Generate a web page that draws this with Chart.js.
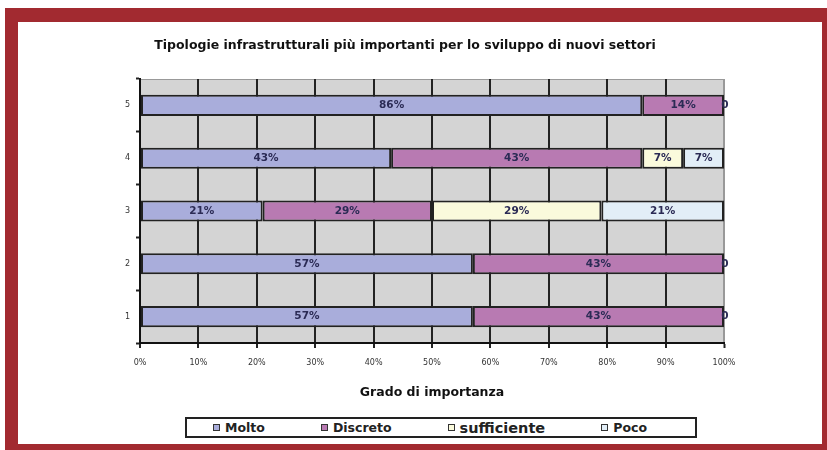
<!DOCTYPE html>
<html>
<head>
<meta charset="utf-8">
<script src="https://cdn.jsdelivr.net/npm/chart.js@4"></script>
<style>
  html, body { margin: 0; padding: 0; background: #fff; }
  body { width: 827px; height: 450px; position: relative; overflow: hidden; font-family: "DejaVu Sans", Verdana, sans-serif; }
  .frame { position: absolute; left: 5px; top: 8px; width: 822px; height: 442px; box-sizing: border-box;
           border: solid #a22a30; border-width: 14px 5px 6px 13px; }
  #wrap { position: absolute; left: 0; top: 0; width: 827px; height: 450px; }
  .legend { position: absolute; left: 185px; top: 417px; width: 512px; height: 21px; box-sizing: border-box;
            border: 2px solid #222; background: #fff; display: flex; justify-content: flex-start; align-items: center;
            gap: 56px; padding-left: 26px; }
  .legend span { display: inline-flex; align-items: center; font-weight: bold; font-size: 12.5px; color: #222; }
  .legend span.big { font-size: 14.5px; }
  .legend i { display: inline-block; width: 5px; height: 5px; border: 1px solid #333; margin-right: 5px; }
</style>
</head>
<body>
<div class="frame"></div>
<div id="wrap"><canvas id="c" width="827" height="450"></canvas></div>
<div class="legend" id="legend"></div>
<script>
const categories = ['1', '2', '3', '4', '5'];
const seriesNames = ['Molto', 'Discreto', 'sufficiente', 'Poco'];
const molto       = [57, 57, 21, 43, 86];
const discreto    = [43, 43, 29, 43, 14];
const sufficiente = [0, 0, 29, 7, 0];
const poco        = [0, 0, 21, 7, 0];
const xTicks = [0, 10, 20, 30, 40, 50, 60, 70, 80, 90, 100];
const colors = ['#a9addb', '#b87ab2', '#fafadc', '#e2eef7'];

const plotBg = {
  id: 'plotBg',
  beforeDraw(chart) {
    const { ctx, chartArea: a } = chart;
    ctx.save();
    ctx.fillStyle = '#d4d4d4';
    ctx.fillRect(a.left, a.top, a.width, a.height);
    ctx.strokeStyle = '#999';
    ctx.lineWidth = 1;
    ctx.strokeRect(a.left + 0.5, a.top + 0.5, a.width - 1, a.height);
    ctx.restore();
  }
};

const segLabels = {
  id: 'segLabels',
  afterDatasetsDraw(chart) {
    const { ctx } = chart;
    ctx.save();
    ctx.font = 'bold 10.5px "DejaVu Sans"';
    ctx.fillStyle = '#2b2b55';
    ctx.textAlign = 'center';
    ctx.textBaseline = 'middle';
    chart.data.datasets.forEach((ds, di) => {
      chart.getDatasetMeta(di).data.forEach((bar, i) => {
        const v = ds.data[i];
        if (v > 0) ctx.fillText(v + '%', (bar.x + bar.base) / 2, bar.y);
        else if (di === 3) ctx.fillText('0', bar.x + 1, bar.y);
      });
    });
    ctx.restore();
  }
};

const sets = [molto, discreto, sufficiente, poco];

new Chart(document.getElementById('c'), {
  type: 'bar',
  data: {
    labels: categories,
    datasets: sets.map((d, i) => ({
      label: seriesNames[i], data: d, backgroundColor: colors[i],
      borderColor: '#222', borderWidth: 2, borderSkipped: false,
      categoryPercentage: 1, barPercentage: 0.4,
    })),
  },
  options: {
    indexAxis: 'y',
    responsive: false, animation: false,
    layout: { padding: { left: 86, right: 103, top: 0, bottom: 50 } },
    plugins: {
      legend: { display: false },
      tooltip: { enabled: false },
      title: {
        display: true, text: 'Tipologie infrastrutturali più importanti per lo sviluppo di nuovi settori',
        font: { family: 'DejaVu Sans', size: 12.5, weight: 'bold' }, color: '#111',
        padding: { top: 38, bottom: 26 },
      },
    },
    scales: {
      x: {
        stacked: true, min: 0, max: 100,
        afterBuildTicks: s => { s.ticks = xTicks.map(v => ({ value: v })); },
        afterFit: s => { s.height = 57; },
        ticks: { callback: v => v + '%', font: { family: 'DejaVu Sans', size: 8 }, color: '#333', padding: 10, maxRotation: 0 },
        grid: {
          color: c => c.tick && c.tick.value === 100 ? '#999' : '#222',
          lineWidth: c => c.tick && c.tick.value === 100 ? 1 : 2,
          tickColor: '#222', tickLength: 5, tickWidth: 2,
        },
        border: { display: true, color: '#111', width: 2 },
        title: { display: true, text: 'Grado di importanza', font: { family: 'DejaVu Sans', size: 12.5, weight: 'bold' }, color: '#111', padding: { top: 8, bottom: 0 } },
      },
      y: {
        stacked: true, reverse: true,
        afterFit: s => { s.width = 54; },
        ticks: { font: { family: 'DejaVu Sans', size: 8 }, color: '#333', padding: 6 },
        grid: { drawOnChartArea: false, offset: true, tickLength: 4, tickColor: '#222', tickWidth: 2 },
        border: { display: true, color: '#111', width: 2 },
      },
    },
  },
  plugins: [plotBg, segLabels],
});

const legend = document.getElementById('legend');
seriesNames.forEach((n, i) => {
  const s = document.createElement('span');
  if (n === 'sufficiente') s.className = 'big';
  const box = document.createElement('i');
  box.style.background = colors[i];
  s.appendChild(box);
  s.appendChild(document.createTextNode(n));
  legend.appendChild(s);
});
</script>
</body>
</html>
